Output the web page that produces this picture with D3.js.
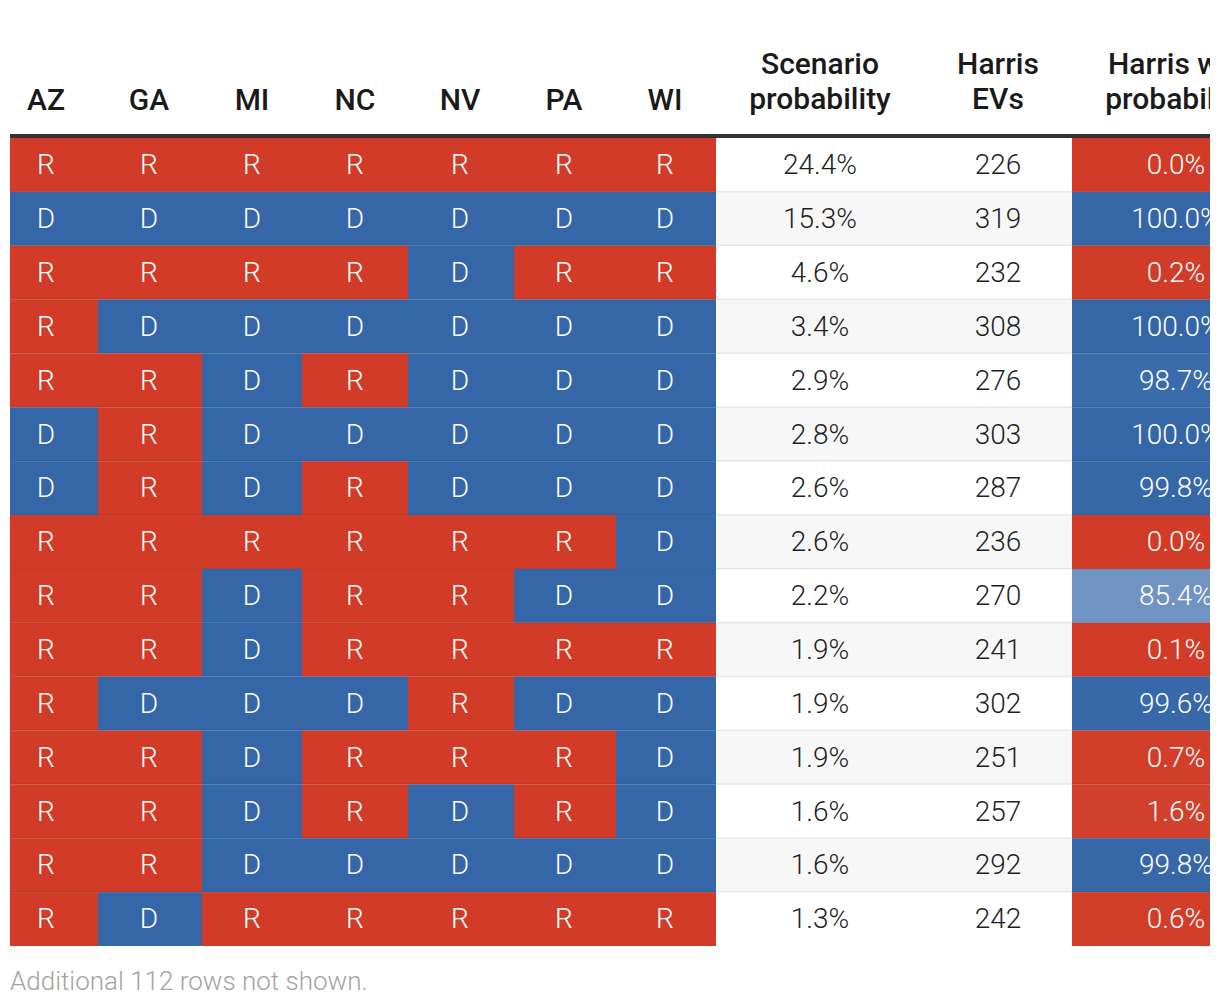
<!DOCTYPE html>
<html><head><meta charset="utf-8">
<script src="https://cdn.jsdelivr.net/npm/d3@7"></script>
<style>
html,body{margin:0;padding:0;background:#fff;}
svg{display:block;font-family:Roboto,"Noto Sans",sans-serif;}
</style></head>
<body>
<svg id="chart" width="1220" height="1006"></svg>
<script>
// ---- data ----
const states = ["AZ","GA","MI","NC","NV","PA","WI"];
const outcomes = [
  ["R","R","R","R","R","R","R"],
  ["D","D","D","D","D","D","D"],
  ["R","R","R","R","D","R","R"],
  ["R","D","D","D","D","D","D"],
  ["R","R","D","R","D","D","D"],
  ["D","R","D","D","D","D","D"],
  ["D","R","D","R","D","D","D"],
  ["R","R","R","R","R","R","D"],
  ["R","R","D","R","R","D","D"],
  ["R","R","D","R","R","R","R"],
  ["R","D","D","D","R","D","D"],
  ["R","R","D","R","R","R","D"],
  ["R","R","D","R","D","R","D"],
  ["R","R","D","D","D","D","D"],
  ["R","D","R","R","R","R","R"]
];
const scenarioProb = [24.4,15.3,4.6,3.4,2.9,2.8,2.6,2.6,2.2,1.9,1.9,1.9,1.6,1.6,1.3];
const harrisEVs = [226,319,232,308,276,303,287,236,270,241,302,251,257,292,242];
const harrisWinProb = [0.0,100.0,0.2,100.0,98.7,100.0,99.8,0.0,85.4,0.1,99.6,0.7,1.6,99.8,0.6];
const extraHeaders = [["Scenario","probability"],["Harris","EVs"],["Harris win","probability"]];
const footnote = "Additional 112 rows not shown.";

// ---- layout ----
const RED = "#d13b27", BLUE = "#3567a8";
const svg = d3.select("#chart");
svg.append("defs").append("clipPath").attr("id","tableClip")
  .append("rect").attr("x",0).attr("y",0).attr("width",1210).attr("height",1006);
const root = svg.append("g").attr("clip-path","url(#tableClip)");
const colEdges = [10,98,202,302,408,514,616,716,924,1072,1280];
const textCenters = [46,149,252,355,460,564,665,820,998,1176];
const rowY = d3.scaleBand().domain(d3.range(outcomes.length)).range([138,946]).padding(0);
const partyColor = d3.scaleOrdinal().domain(["R","D"]).range([RED,BLUE]);
const winColor = d3.scaleLinear().domain([0,50,100]).range([RED,"#ffffff",BLUE]).interpolate(d3.interpolateRgb);
const fmt = d3.format(".1f");

// headers
const hdrG = root.append("g").attr("font-size",30).attr("font-weight",500).attr("fill","#1a1a1a").attr("text-anchor","middle");
states.forEach((s,i)=>{
  hdrG.append("text").attr("x",textCenters[i]).attr("y",110).text(s);
});
extraHeaders.forEach((lines,j)=>{
  const t = hdrG.append("text").attr("x",textCenters[7+j]).attr("y",75);
  lines.forEach((l,k)=>t.append("tspan").attr("x",textCenters[7+j]).attr("y",74+35*k).text(l));
});

// row backgrounds (striped)
const rows = root.append("g").selectAll("g").data(d3.range(outcomes.length)).join("g");
rows.append("rect").attr("x",colEdges[7]).attr("width",colEdges[9]-colEdges[7])
  .attr("y",i=>rowY(i)).attr("height",rowY.bandwidth())
  .attr("fill",i=>i%2 ? "#f7f7f7" : "#ffffff");

// state cells
rows.each(function(i){
  const g = d3.select(this);
  outcomes[i].forEach((v,j)=>{
    g.append("rect").attr("x",colEdges[j]).attr("width",colEdges[j+1]-colEdges[j])
      .attr("y",rowY(i)).attr("height",rowY.bandwidth()).attr("fill",partyColor(v));
  });
  g.append("rect").attr("x",colEdges[9]).attr("width",colEdges[10]-colEdges[9])
    .attr("y",rowY(i)).attr("height",rowY.bandwidth()).attr("fill",winColor(harrisWinProb[i]));
});

// separators
root.append("g").selectAll("rect").data(d3.range(1,outcomes.length)).join("rect")
  .attr("x",colEdges[0]).attr("width",1220).attr("y",i=>rowY(i)-1).attr("height",1.5)
  .attr("fill","rgba(0,0,0,0.08)");

// cell texts
const txt = root.append("g").attr("font-size",28).attr("font-weight",300).attr("text-anchor","middle");
outcomes.forEach((r,i)=>{
  const cy = rowY(i)+rowY.bandwidth()/2;
  r.forEach((v,j)=>{
    txt.append("text").attr("x",textCenters[j]).attr("y",cy).attr("dy","0.33em").attr("fill","#fff").text(v);
  });
  txt.append("text").attr("x",textCenters[7]).attr("y",cy).attr("dy","0.33em").attr("fill","#1f1f1f").text(fmt(scenarioProb[i])+"%");
  txt.append("text").attr("x",textCenters[8]).attr("y",cy).attr("dy","0.33em").attr("fill","#1f1f1f").text(harrisEVs[i]);
  txt.append("text").attr("x",textCenters[9]).attr("y",cy).attr("dy","0.33em").attr("fill","#fff").text(fmt(harrisWinProb[i])+"%");
});

// header rule
root.append("rect").attr("x",colEdges[0]).attr("y",134).attr("width",1220).attr("height",4).attr("fill","#333");

// footnote
svg.append("text").attr("x",10).attr("y",990).attr("font-size",26).attr("font-weight",300)
  .attr("fill","#a3a3a3").text(footnote);
</script>
</body></html>
